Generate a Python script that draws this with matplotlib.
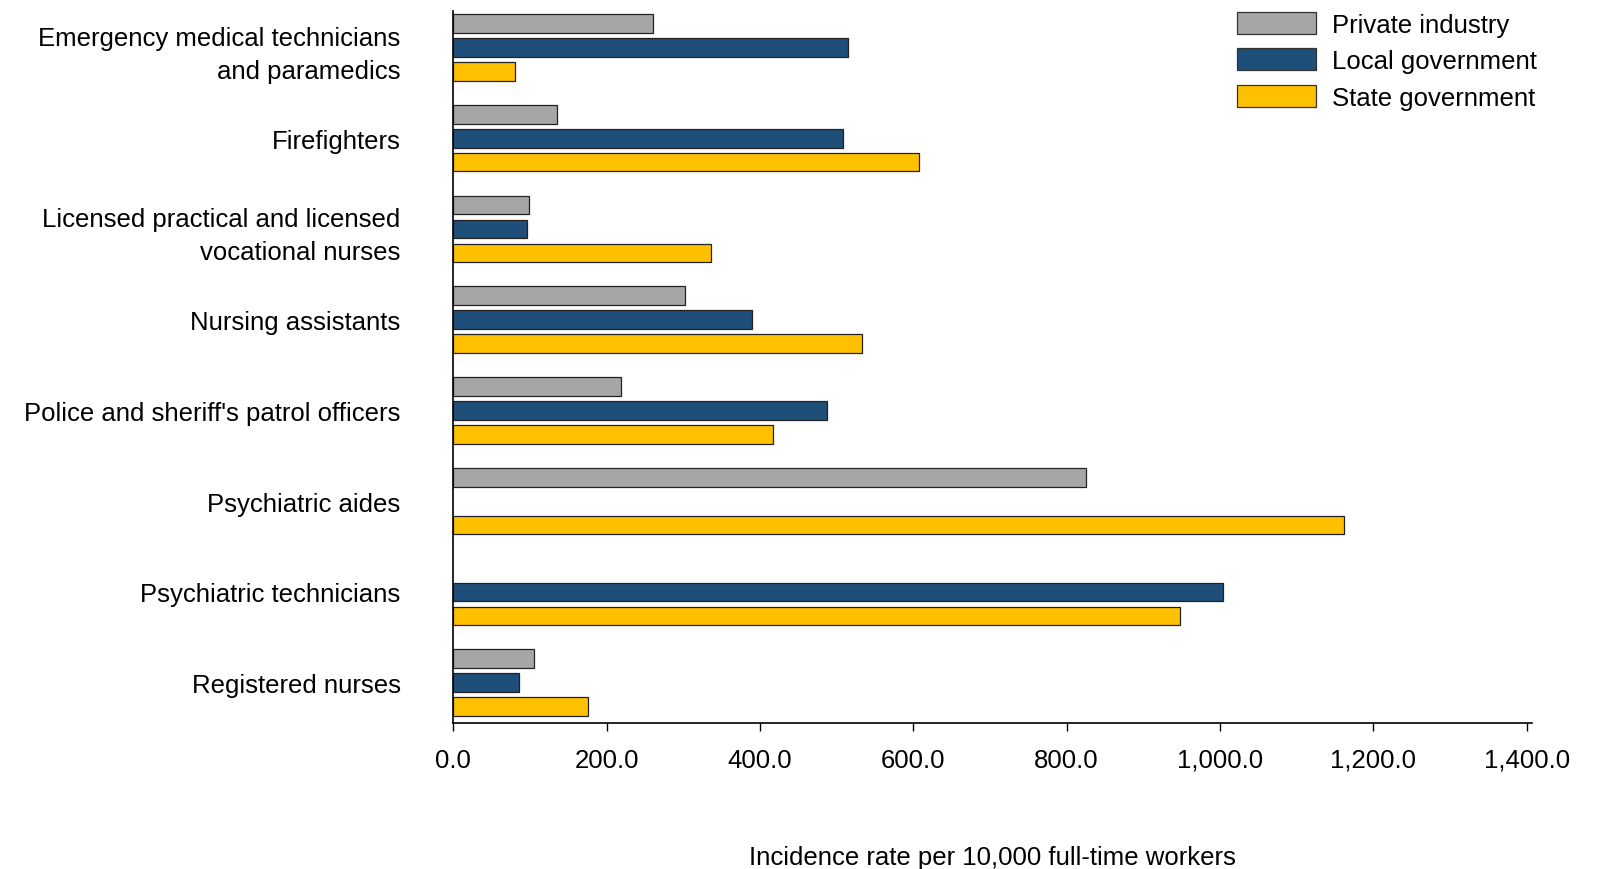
import numpy as np
import matplotlib
matplotlib.use("Agg")
import matplotlib.pyplot as plt
from matplotlib.ticker import FuncFormatter
from matplotlib.patches import Patch

plt.rcParams['font.family'] = ['Liberation Sans', 'DejaVu Sans']

categories = [
    "Emergency medical technicians\nand paramedics",
    "Firefighters",
    "Licensed practical and licensed\nvocational nurses",
    "Nursing assistants",
    "Police and sheriff's patrol officers",
    "Psychiatric aides",
    "Psychiatric technicians",
    "Registered nurses",
]
series_names = ["Private industry", "Local government", "State government"]
private_industry = [260.7, 134.7, 98.1, 302.6, 218.8, 825.3, np.nan, 105.4]
local_government = [515.3, 507.9, 95.5, 389.3, 487.0, np.nan, 1003.4, 85.4]
state_government = [79.8, 607.2, 336.6, 533.6, 416.3, 1162.4, 948.0, 176.1]
xticks = [0, 200, 400, 600, 800, 1000, 1200, 1400]
xlabel = "Incidence rate per 10,000 full-time workers"

colors = ["#A6A6A6", "#1F4E79", "#FFC000"]
FS = 18.5

fig = plt.figure(figsize=(15.98, 8.70), dpi=100)
ax = fig.add_axes([0.2837, 0.1683, 0.9587 - 0.2837, 0.986 - 0.1683])

y = np.arange(len(categories))
off = 0.264
h = 0.205
for i, (vals, c) in enumerate(zip([private_industry, local_government, state_government], colors)):
    ax.barh(y + (i - 1) * off, vals, height=h, color=c, edgecolor="#222222", linewidth=0.9)

ax.set_ylim(7.44, -0.40)
ax.set_xlim(0, 1407)
ax.set_yticks(y)
ax.set_yticklabels(categories, fontsize=FS, ha='right', linespacing=1.45)
ax.tick_params(axis='y', length=0, pad=38)
ax.set_xticks(xticks)
ax.xaxis.set_major_formatter(FuncFormatter(lambda v, p: f"{v:,.1f}"))
ax.tick_params(axis='x', labelsize=FS, length=6, width=1, direction='out', pad=12)

for s in ['top', 'right']:
    ax.spines[s].set_visible(False)
ax.spines['left'].set_linewidth(1.2)
ax.spines['bottom'].set_linewidth(1.2)

ax.set_xlabel(xlabel, fontsize=FS, labelpad=53)

handles = [Patch(facecolor=c, edgecolor="#333333", linewidth=0.9) for c in colors]
fig.legend(handles, series_names, loc='upper left', bbox_to_anchor=(0.761, 1.009),
           frameon=False, fontsize=FS, handlelength=3.1, handleheight=0.95,
           labelspacing=0.45, handletextpad=0.6, borderpad=0.3)

fig.savefig("out.png", dpi=100)
